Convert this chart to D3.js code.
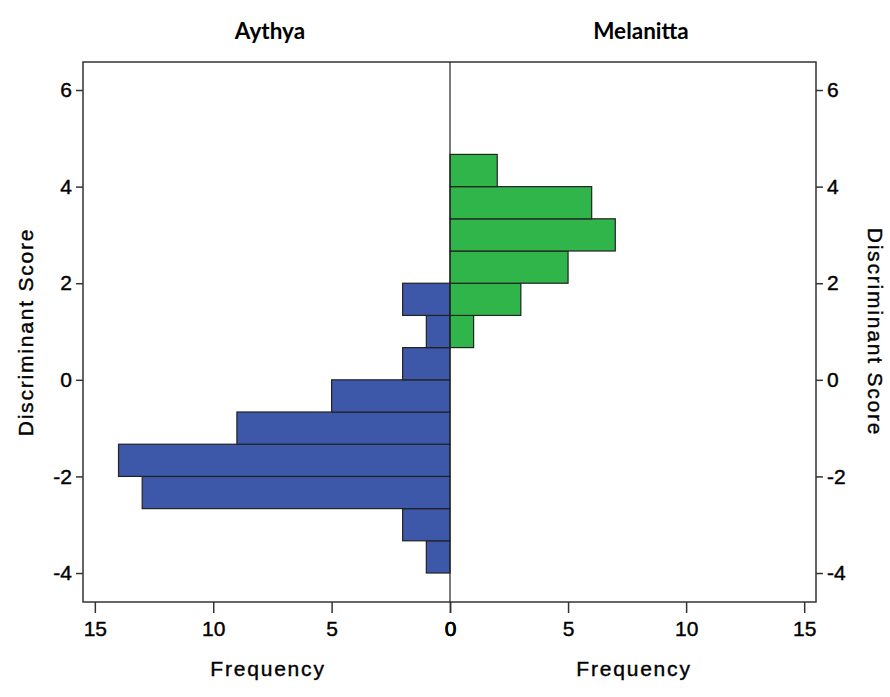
<!DOCTYPE html>
<html>
<head>
<meta charset="utf-8">
<script src="https://cdn.jsdelivr.net/npm/d3@7"></script>
<style>
body { margin: 0; background: #fff; }
.tick text { font-family: "Liberation Sans", Arial, sans-serif; font-size: 21px; fill: #000; stroke: #000; stroke-width: 0.4px; }
.axis path, .axis line { stroke: #333; stroke-width: 1.5; }
.title { font-family: Lato, "Open Sans", sans-serif; font-weight: bold; font-size: 22.5px; fill: #000; }
.label { font-family: "Liberation Sans", Arial, sans-serif; font-size: 21px; letter-spacing: 1.8px; fill: #000; stroke: #000; stroke-width: 0.4px; }
</style>
</head>
<body>
<svg id="chart" width="890" height="697"></svg>
<script>
// histogram bins: lower edge of each discriminant score bin (bin width 2/3)
var binWidth = 2 / 3;
var aythyaBins = [-4, -3.333, -2.667, -2, -1.333, -0.667, 0, 0.667, 1.333];
var aythyaCounts = [1, 2, 13, 14, 9, 5, 2, 1, 2];
var melanittaBins = [0.667, 1.333, 2, 2.667, 3.333, 4];
var melanittaCounts = [1, 3, 5, 7, 6, 2];
var scoreTicks = [-4, -2, 0, 2, 4, 6];
var freqTicks = [0, 5, 10, 15];
var groups = ["Aythya", "Melanitta"];

var svg = d3.select("#chart");
var plotL = 83, plotR = 816, plotT = 62, plotB = 602, mid = 450;

var y = d3.scaleLinear().domain([-4.6, 6.58]).range([plotB, plotT]);
var xl = d3.scaleLinear().domain([15.5, 0]).range([plotL, mid]);
var xr = d3.scaleLinear().domain([0, 15.5]).range([mid, plotR]);
// plain hyphen for negatives, like the original
var fmt = function(d) { return String(d); };

// bars first, border and axes drawn over them
function bars(bins, counts, x, color) {
	svg.append("g").selectAll("rect").data(bins).enter().append("rect")
		.attr("x", function(b, i) { return Math.min(x(0), x(counts[i])); })
		.attr("width", function(b, i) { return Math.abs(x(counts[i]) - x(0)); })
		.attr("y", function(b) { return y(b + binWidth); })
		.attr("height", function(b) { return y(b) - y(b + binWidth); })
		.attr("fill", color).attr("stroke", "#222").attr("stroke-width", 1.2);
}
bars(aythyaBins, aythyaCounts, xl, "#3d57a9");
bars(melanittaBins, melanittaCounts, xr, "#30b54a");

svg.append("rect").attr("x", plotL).attr("y", plotT).attr("width", plotR - plotL).attr("height", plotB - plotT)
	.attr("fill", "none").attr("stroke", "#333").attr("stroke-width", 1.5);
svg.append("line").attr("x1", mid).attr("x2", mid).attr("y1", plotT).attr("y2", plotB)
	.attr("stroke", "#222").attr("stroke-width", 1.2);

var yl = svg.append("g").attr("class", "axis").attr("transform", "translate(" + plotL + ",0)")
	.call(d3.axisLeft(y).tickValues(scoreTicks).tickFormat(fmt).tickSize(7).tickPadding(4));
var yr = svg.append("g").attr("class", "axis").attr("transform", "translate(" + plotR + ",0)")
	.call(d3.axisRight(y).tickValues(scoreTicks).tickFormat(fmt).tickSize(7).tickPadding(4));
var bl = svg.append("g").attr("class", "axis").attr("transform", "translate(0," + plotB + ")")
	.call(d3.axisBottom(xl).tickValues(freqTicks).tickFormat(fmt).tickSize(11).tickPadding(8));
var br = svg.append("g").attr("class", "axis").attr("transform", "translate(0," + plotB + ")")
	.call(d3.axisBottom(xr).tickValues(freqTicks).tickFormat(fmt).tickSize(11).tickPadding(8));
[yl, yr, bl, br].forEach(function(a) { a.select(".domain").remove(); });

svg.append("text").attr("class", "title").attr("x", 270).attr("y", 39).attr("text-anchor", "middle").text(groups[0]);
svg.append("text").attr("class", "title").attr("x", 641).attr("y", 39).attr("text-anchor", "middle").text(groups[1]);
svg.append("text").attr("class", "label").attr("x", 268).attr("y", 676).attr("text-anchor", "middle").text("Frequency");
svg.append("text").attr("class", "label").attr("x", 634).attr("y", 676).attr("text-anchor", "middle").text("Frequency");
svg.append("text").attr("class", "label").attr("text-anchor", "middle")
	.attr("transform", "translate(33,332) rotate(-90)").text("Discriminant Score");
svg.append("text").attr("class", "label").attr("text-anchor", "middle")
	.attr("transform", "translate(868,332) rotate(90)").text("Discriminant Score");
</script>
</body>
</html>
